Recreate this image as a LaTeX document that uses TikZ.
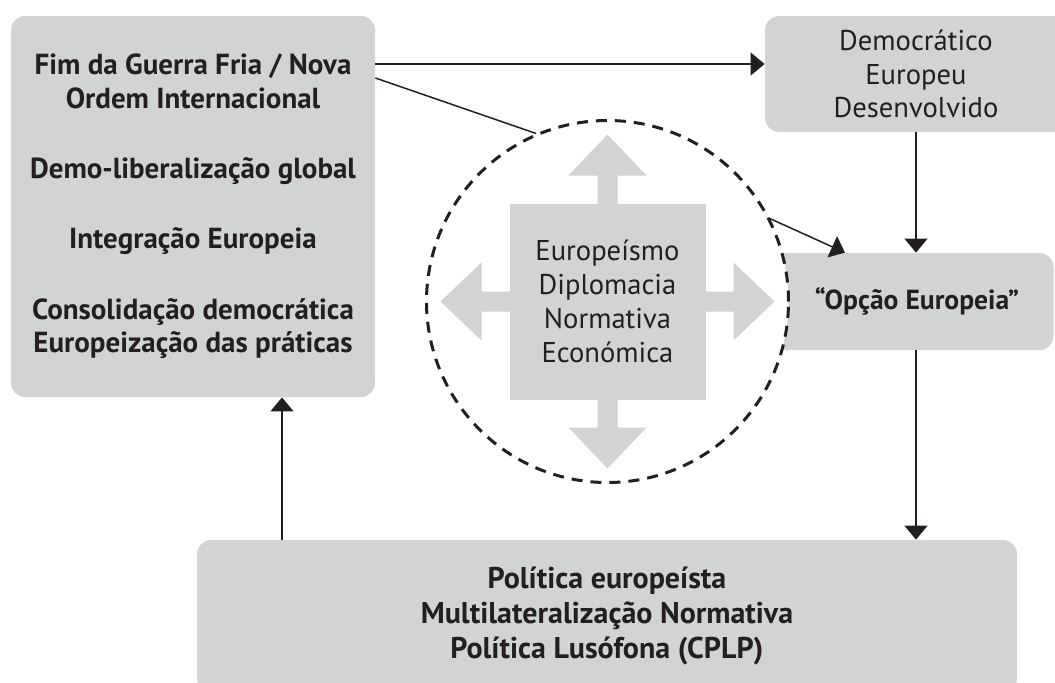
\documentclass[tikz,border=0pt]{standalone}
\usepackage{fontspec}
\setmainfont{PT Sans}
\usetikzlibrary{arrows.meta,positioning,shapes,calc}
\definecolor{boxgray}{RGB}{209,211,212}
\definecolor{ink}{RGB}{35,31,32}

\begin{document}
\begin{tikzpicture}[
x=0.5pt, y=-0.5pt,
box/.style={rectangle, rounded corners=7pt, fill=boxgray, inner sep=0pt, align=center, text=ink, font=\fontsize{14.3}{16.8}\selectfont},
boldbox/.style={box, font=\bfseries\fontsize{14.5}{16.8}\selectfont},
arrow/.style={-{Triangle[length=7pt,width=11.5pt]}, line width=0.75pt, draw=ink},
link/.style={line width=0.75pt, draw=ink}
]
\useasboundingbox (0,0) rectangle (1055,682);

% Boxes
\node[boldbox, minimum width=182pt, minimum height=190.5pt] (drivers) at (193,206.5) {Fim da Guerra Fria / Nova\\Ordem Internacional\\[18.3pt]Demo-liberalização global\\[18.3pt]Integração Europeia\\[18.3pt]Consolidação democrática\\Europeização das práticas};
\node[box, minimum width=151pt, minimum height=58pt] (model) at (916,74) {Democrático\\Europeu\\Desenvolvido};
\node[boldbox, minimum width=151.5pt, minimum height=48.5pt, font=\bfseries\fontsize{13.8}{16.5}\selectfont] (opcao) at (902,301.5) {\hspace*{15pt}“Opção Europeia”};
\node[boldbox, minimum width=410pt, minimum height=76pt, font=\bfseries\fontsize{15}{17.5}\selectfont] (policy) at (607,616) {Política europeísta\\Multilateralização Normativa\\Política Lusófona (CPLP)};

% Dashed circle and the central square
\node[circle, draw=ink, fill=white, line width=1.5pt, dash pattern=on 5.5pt off 4pt, minimum size=181pt, inner sep=0pt] (circ) at (607.5,301.5) {};
\foreach \ang in {0,90,180,270}
  \fill[boxgray, shift={(607.5,301.5)}, rotate=\ang] (97,-10) -- (126,-10) -- (126,-39) -- (167,0) -- (126,39) -- (126,10) -- (97,10) -- cycle;
\node[box, rounded corners=0pt, minimum size=98pt, font=\fontsize{14.3}{17}\selectfont] (core) at (607.5,301.5) {Europeísmo\\Diplomacia\\Normativa\\Económica};

% Arrows
\coordinate (hi) at (0,64);
\coordinate (lo) at (0,78);
\coordinate (hit) at (845,0);
\coordinate (upx) at (282,0);
\draw[arrow] (drivers.east |- hi) -- (model.west |- hi);
\draw[link] (drivers.east |- lo) -- (circ.113);
\draw[arrow] (circ.27.5) -- (opcao.north -| hit);
\draw[arrow] (model.south) -- (opcao.north -| model.south);
\draw[arrow] (opcao.south -| model.south) -- (policy.north -| model.south);
\draw[arrow] (policy.north -| upx) -- (drivers.south -| upx);

\end{tikzpicture}
\end{document}
